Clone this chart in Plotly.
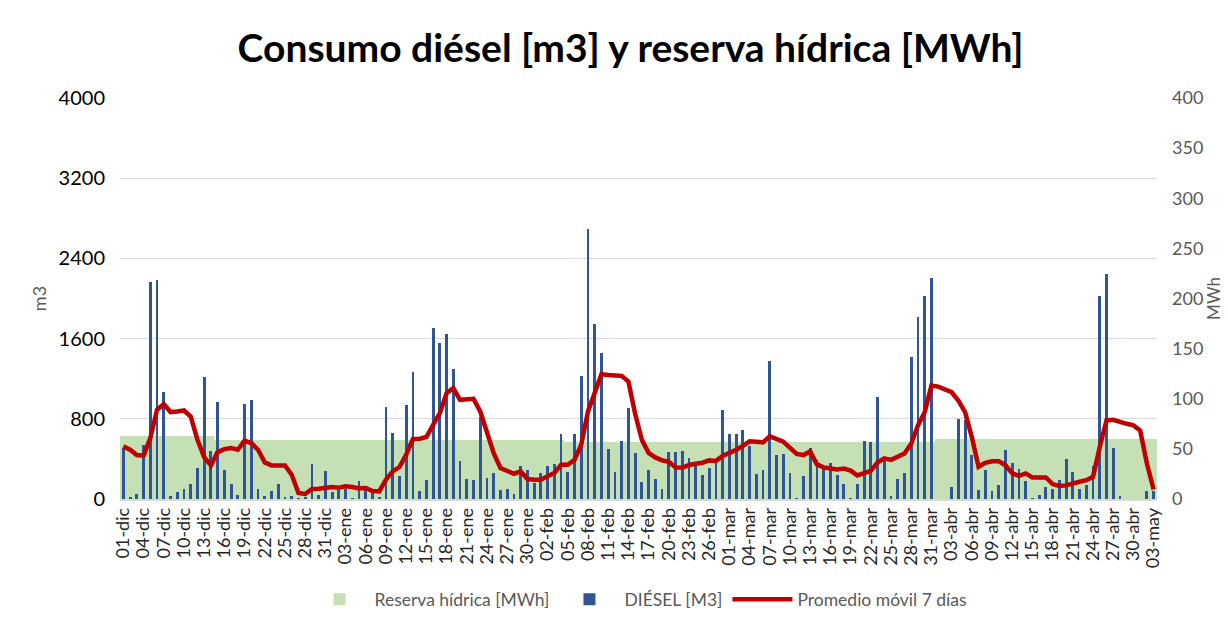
import pandas as pd
import plotly.graph_objects as go

# ---- data ----
MESES = {12: "dic", 1: "ene", 2: "feb", 3: "mar", 4: "abr", 5: "may"}
fechas = pd.date_range("2020-12-01", "2021-05-03", freq="D")
categorias = [f"{d.day:02d}-{MESES[d.month]}" for d in fechas]
etiquetas_eje = categorias[::3]

diesel_m3 = [
    510, 20, 53, 541, 2161, 2181, 1069, 27, 73, 100, 149, 309, 1215, 481, 966, 286, 149, 37, 950, 989,
    100, 27, 76, 149, 20, 27, 5, 20, 349, 37, 276, 66, 90, 100, 10, 183, 100, 60, 17, 916,
    657, 232, 936, 1268, 76, 193, 1703, 1560, 1643, 1298, 378, 199, 189, 817, 212, 259, 86, 100, 53, 332,
    286, 160, 259, 332, 349, 647, 272, 647, 1228, 2696, 1743, 1454, 501, 272, 574, 903, 458, 169, 286, 203,
    100, 471, 471, 481, 408, 332, 242, 305, 385, 886, 647, 647, 687, 531, 252, 286, 1381, 442, 448, 259,
    10, 232, 508, 392, 319, 355, 242, 149, 5, 149, 574, 564, 1019, 392, 33, 203, 259, 1414, 1816, 2022,
    2201, 0, 0, 120, 803, 790, 442, 90, 286, 76, 139, 491, 355, 295, 183, 10, 37, 120, 100, 193,
    398, 272, 100, 139, 332, 2022, 2241, 508, 27, 0, 0, 0, 76, 76,
]

promedio_movil = [
    525, 491, 438, 432, 608, 890, 946, 867, 873, 883, 823, 591, 418, 335, 468, 498, 508, 491, 581, 558,
    491, 365, 335, 335, 335, 242, 60, 50, 100, 103, 110, 120, 113, 126, 120, 106, 110, 80, 76, 193,
    276, 319, 442, 598, 601, 618, 740, 857, 1056, 1106, 989, 996, 999, 873, 657, 458, 309, 276, 252, 276,
    199, 193, 193, 226, 259, 342, 342, 392, 541, 873, 1056, 1245, 1238, 1235, 1228, 1172, 850, 590, 460, 415,
    385, 370, 315, 311, 340, 352, 362, 385, 380, 430, 455, 490, 530, 575, 570, 565, 625, 598, 572, 510,
    450, 438, 475, 345, 315, 305, 295, 303, 283, 235, 253, 280, 365, 405, 390, 426, 453, 552, 734, 866,
    1131, 1121, 1088, 1065, 982, 866, 618, 321, 360, 377, 377, 337, 255, 231, 255, 215, 215, 215, 149, 129,
    136, 149, 172, 188, 221, 519, 784, 790, 767, 750, 734, 684, 354, 95,
]

reserva_mwh = [62.4] * 14 + [59.1] * 52 + [56.4] * 55 + [59.4] * 33

# ---- figure ----
FONT = "Lato, 'Open Sans', sans-serif"
GRIS = "#595959"

fig = go.Figure()
fig.add_trace(go.Bar(
    x=categorias, y=reserva_mwh, name="Reserva hídrica [MWh]",
    marker=dict(color="#C5E0B4", line=dict(width=0)), width=1.0, yaxis="y",
))
fig.add_trace(go.Bar(
    x=categorias, y=diesel_m3, name="DIÉSEL [M3]",
    marker=dict(color="#2F5597", line=dict(width=0)), width=0.42, yaxis="y2",
))
fig.add_trace(go.Scatter(
    x=categorias, y=promedio_movil, name="Promedio móvil 7 días", mode="lines",
    line=dict(color="#C00000", width=4.5), yaxis="y2",
))

fig.update_layout(
    width=1228, height=626,
    margin=dict(l=112, r=79, t=90, b=134.5, autoexpand=False),
    paper_bgcolor="white", plot_bgcolor="white",
    barmode="overlay", bargap=0,
    font=dict(family=FONT, color=GRIS),
    title=dict(
        text="<b>Consumo diésel [m3] y reserva hídrica [MWh]</b>",
        x=0.507, xref="container", xanchor="center",
        y=0.936, yref="container", yanchor="middle",
        font=dict(family=FONT, size=39, color="#000000"),
    ),
    xaxis=dict(
        type="category", tickmode="array", tickvals=etiquetas_eje, ticktext=etiquetas_eje,
        tickangle=-90, tickfont=dict(size=18, color="#262626"),
        showgrid=False, showline=True, linecolor="#D9D9D9", linewidth=1.5,
        ticks="", automargin=False,
    ),
    yaxis=dict(
        side="right", range=[0, 400], dtick=50, showgrid=False, zeroline=False,
        tickfont=dict(size=18, color=GRIS), ticklabelstandoff=14,
        title=dict(text="MWh", font=dict(size=17, color=GRIS), standoff=1),
        automargin=False,
    ),
    yaxis2=dict(
        side="left", overlaying="y", range=[0, 4000], tickvals=[0, 800, 1600, 2400, 3200, 4000],
        showgrid=True, gridcolor="#D9D9D9", gridwidth=1.2, zeroline=False,
        tickfont=dict(size=20, color="#000000"), ticklabelstandoff=14,
        title=dict(text="m3", font=dict(size=18, color=GRIS), standoff=7),
        automargin=False,
    ),
    legend=dict(
        orientation="h", x=0.5, xanchor="center", y=-0.25, yanchor="middle",
        font=dict(size=17.5, color=GRIS), traceorder="normal", itemwidth=60,
    ),
)

fig.write_html("out.html")
